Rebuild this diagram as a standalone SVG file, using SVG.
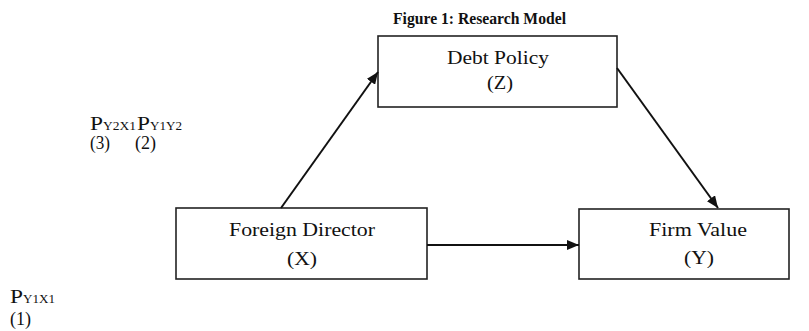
<svg xmlns="http://www.w3.org/2000/svg" width="809" height="331" viewBox="0 0 809 331">
<style>
text{font-family:"Liberation Serif","Times New Roman",serif;fill:#111}
.lbl{font-size:19px}
.title{font-size:16.5px;font-weight:bold}
.sub{font-size:12.5px}
.box{fill:#fff;stroke:#222;stroke-width:1.6}
.edge{stroke:#111;stroke-width:2;fill:none;marker-end:url(#arr)}
</style>
<defs>
<marker id="arr" viewBox="0 0 12 10" refX="12" refY="5" markerWidth="12" markerHeight="10" markerUnits="userSpaceOnUse" orient="auto">
<path d="M0,0 L12,5 L0,10 z" fill="#111"/>
</marker>
</defs>
<rect width="809" height="331" fill="#fff"/>
<text class="title" x="393" y="24" textLength="173" lengthAdjust="spacingAndGlyphs">Figure 1: Research Model</text>
<g id="debt">
<rect class="box" x="378" y="36" width="239" height="71"/>
<text class="lbl" x="447" y="64" textLength="102" lengthAdjust="spacingAndGlyphs">Debt Policy</text>
<text class="lbl" x="487" y="89" textLength="26" lengthAdjust="spacingAndGlyphs">(Z)</text>
</g>
<g id="foreign">
<rect class="box" x="176" y="208" width="251" height="71"/>
<text class="lbl" x="229" y="236" textLength="146" lengthAdjust="spacingAndGlyphs">Foreign Director</text>
<text class="lbl" x="287" y="265" textLength="30" lengthAdjust="spacingAndGlyphs">(X)</text>
</g>
<g id="firm">
<rect class="box" x="579" y="209" width="210" height="70"/>
<text class="lbl" x="649" y="236" textLength="98" lengthAdjust="spacingAndGlyphs">Firm Value</text>
<text class="lbl" x="684" y="264" textLength="30" lengthAdjust="spacingAndGlyphs">(Y)</text>
</g>
<g id="connectors">
<line class="edge" x1="281" y1="208" x2="378" y2="72"/>
<line class="edge" x1="617" y1="68" x2="718" y2="208"/>
<line class="edge" x1="427" y1="245" x2="579" y2="245"/>
</g>
<g id="path-labels">
<text class="lbl" x="90" y="130" textLength="13" lengthAdjust="spacingAndGlyphs">P</text>
<text class="sub" x="103" y="130" textLength="33" lengthAdjust="spacingAndGlyphs">Y2X1</text>
<text class="lbl" x="137" y="130" textLength="13" lengthAdjust="spacingAndGlyphs">P</text>
<text class="sub" x="150" y="130" textLength="32" lengthAdjust="spacingAndGlyphs">Y1Y2</text>
<text class="lbl" x="90" y="149" textLength="20" lengthAdjust="spacingAndGlyphs">(3)</text>
<text class="lbl" x="135" y="149" textLength="21" lengthAdjust="spacingAndGlyphs">(2)</text>
<text class="lbl" x="10" y="303" textLength="13" lengthAdjust="spacingAndGlyphs">P</text>
<text class="sub" x="23" y="303" textLength="32" lengthAdjust="spacingAndGlyphs">Y1X1</text>
<text class="lbl" x="10" y="325" textLength="21" lengthAdjust="spacingAndGlyphs">(1)</text>
</g>
</svg>
